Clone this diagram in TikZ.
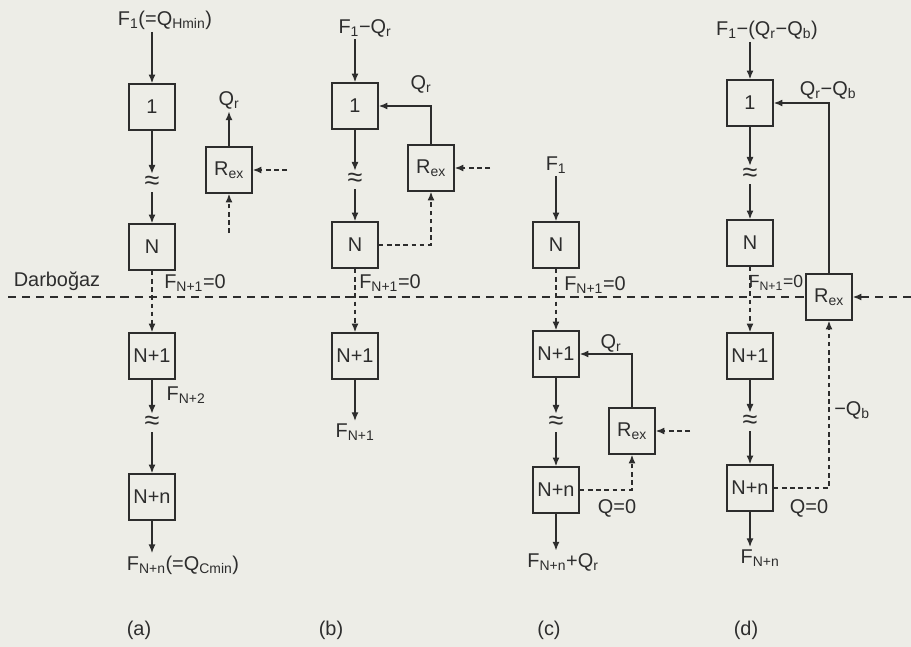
\documentclass[tikz,border=0pt]{standalone}
\usepackage{fontspec}
\setmainfont{Liberation Sans}
\usetikzlibrary{arrows.meta}
\definecolor{paper}{RGB}{237,237,231}
\definecolor{ink}{RGB}{45,45,45}
\tikzset{
  stage/.style={draw=ink, line width=1.2pt, minimum width=1.38cm, minimum height=1.38cm,
    inner sep=0pt, text=ink, font=\fontsize{17}{19}\selectfont},
  lbl/.style={text=ink, inner sep=2pt, font=\fontsize{17}{19}\selectfont},
  approx/.style={text=ink, inner sep=2pt, font=\fontsize{23}{25}\selectfont},
  flow/.style={draw=ink, line width=1.2pt, -{Latex[length=7.5pt,width=6pt]}},
  cut/.style={flow, dash pattern=on 4pt off 3pt},
  bneck/.style={draw=ink, line width=1.2pt, dash pattern=on 7pt off 5pt}
}
\begin{document}
\begin{tikzpicture}[x=0.03cm, y=-0.03cm]
\fill[paper] (0,0) rectangle (911,647);
\useasboundingbox (0,0) rectangle (911,647);

% bottleneck line
\node[lbl] (dbText) at (57,281) {Darboğaz};

% (a) no recovery
\node[lbl] (aIn) at (165,20) {F\textsubscript{1}(=Q\textsubscript{Hmin})};
\node[stage] (a1) at (152,107) {1};
\node[approx] (a2) at (152,183) {≈};
\node[stage] (aN) at (152,247) {N};
\node[stage] (aN1) at (152,356) {N+1};
\node[approx] (a3) at (152,423) {≈};
\node[stage] (aNn) at (152,497) {N+n};
\node[lbl] (aOut) at (183,565) {F\textsubscript{N+n}(=Q\textsubscript{Cmin})};
\node[stage] (aR) at (229,170) {R\textsubscript{ex}};
\node[lbl] (aQ) at (229,100) {Q\textsubscript{r}};
\node[lbl] (aF1) at (195,283) {F\textsubscript{N+1}=0};
\node[lbl] (aF2) at (186,395) {F\textsubscript{N+2}};
\node[lbl] (aCap) at (139,630) {(a)};
\coordinate (aRin) at (287,170);
\coordinate (aRlow) at (229,233);
\draw[flow] (aIn.south -| a1) -- (a1);
\draw[flow] (a1) -- (a2);
\draw[flow] (a2) -- (aN);
\draw[cut] (aN) -- (aN1);
\draw[flow] (aN1) -- (a3);
\draw[flow] (a3) -- (aNn);
\draw[flow] (aNn) -- (aOut.north -| aNn);
\draw[flow] (aR) -- (aQ.south -| aR);
\draw[cut] (aRin) -- (aR);
\draw[cut] (aRlow) -- (aR);

% (b) recovery above the bottleneck
\node[lbl] (bIn) at (365,28) {F\textsubscript{1}−Q\textsubscript{r}};
\node[stage] (b1) at (355,106) {1};
\node[approx] (b2) at (355,180) {≈};
\node[stage] (bN) at (355,245) {N};
\node[stage] (bN1) at (355,356) {N+1};
\node[lbl] (bOut) at (355,432) {F\textsubscript{N+1}};
\node[stage] (bR) at (431,168) {R\textsubscript{ex}};
\node[lbl] (bQ) at (421,84) {Q\textsubscript{r}};
\node[lbl] (bF1) at (390,283) {F\textsubscript{N+1}=0};
\node[lbl] (bCap) at (331,630) {(b)};
\coordinate (bRin) at (490,168);
\draw[flow] (bIn.south -| b1) -- (b1);
\draw[flow] (b1) -- (b2);
\draw[flow] (b2) -- (bN);
\draw[cut] (bN) -- (bN1);
\draw[flow] (bN1) -- (bOut.north -| bN1);
\draw[flow] (bR) |- (b1);
\draw[cut] (bRin) -- (bR);
\draw[cut] (bN) -| (bR);

% (c) recovery below the bottleneck
\node[lbl] (cIn) at (556,165) {F\textsubscript{1}};
\node[stage] (cN) at (556,245) {N};
\node[stage] (cN1) at (556,354) {N+1};
\node[approx] (c2) at (556,423) {≈};
\node[stage] (cNn) at (556,490) {N+n};
\node[lbl] (cOut) at (563,562) {F\textsubscript{N+n}+Q\textsubscript{r}};
\node[stage] (cR) at (632,431) {R\textsubscript{ex}};
\node[lbl] (cQ) at (611,343) {Q\textsubscript{r}};
\node[lbl] (cF1) at (595,285) {F\textsubscript{N+1}=0};
\node[lbl] (cQ0) at (617,508) {Q=0};
\node[lbl] (cCap) at (549,630) {(c)};
\coordinate (cRin) at (690,431);
\draw[flow] (cIn.south -| cN) -- (cN);
\draw[cut] (cN) -- (cN1);
\draw[flow] (cN1) -- (c2);
\draw[flow] (c2) -- (cNn);
\draw[flow] (cNn) -- (cOut.north -| cNn);
\draw[flow] (cR) |- (cN1);
\draw[cut] (cRin) -- (cR);
\draw[cut] (cNn) -| (cR);

% (d) recovery across the bottleneck
\node[lbl] (dIn) at (767,30) {F\textsubscript{1}−(Q\textsubscript{r}−Q\textsubscript{b})};
\node[stage] (d1) at (750,103) {1};
\node[approx] (d2) at (750,175) {≈};
\node[stage] (dN) at (750,243) {N};
\node[stage] (dN1) at (750,356) {N+1};
\node[approx] (d3) at (750,422) {≈};
\node[stage] (dNn) at (750,488) {N+n};
\node[lbl] (dOut) at (760,558) {F\textsubscript{N+n}};
\node[stage] (dR) at (829,297) {R\textsubscript{ex}};
\node[lbl] (dQ) at (828,90) {Q\textsubscript{r}−Q\textsubscript{b}};
\node[lbl, font=\fontsize{15}{17}\selectfont] (dF1) at (776,283) {F\textsubscript{N+1}=0};
\node[lbl] (dQb) at (852,410) {−Q\textsubscript{b}};
\node[lbl] (dQ0) at (809,508) {Q=0};
\node[lbl] (dCap) at (746,630) {(d)};
\coordinate (dbL) at (8,297);
\coordinate (dbR) at (911,297);
\draw[flow] (dIn.south -| d1) -- (d1);
\draw[flow] (d1) -- (d2);
\draw[flow] (d2) -- (dN);
\draw[cut] (dN) -- (dN1);
\draw[flow] (dN1) -- (d3);
\draw[flow] (d3) -- (dNn);
\draw[flow] (dNn) -- (dOut.north -| dNn);
\draw[flow] (dR) |- (d1);
\draw[cut] (dNn) -| (dR);
\draw[bneck] (dbL) -- (dR);
\draw[flow, dash pattern=on 7pt off 5pt] (dbR) -- (dR);

\end{tikzpicture}
\end{document}
